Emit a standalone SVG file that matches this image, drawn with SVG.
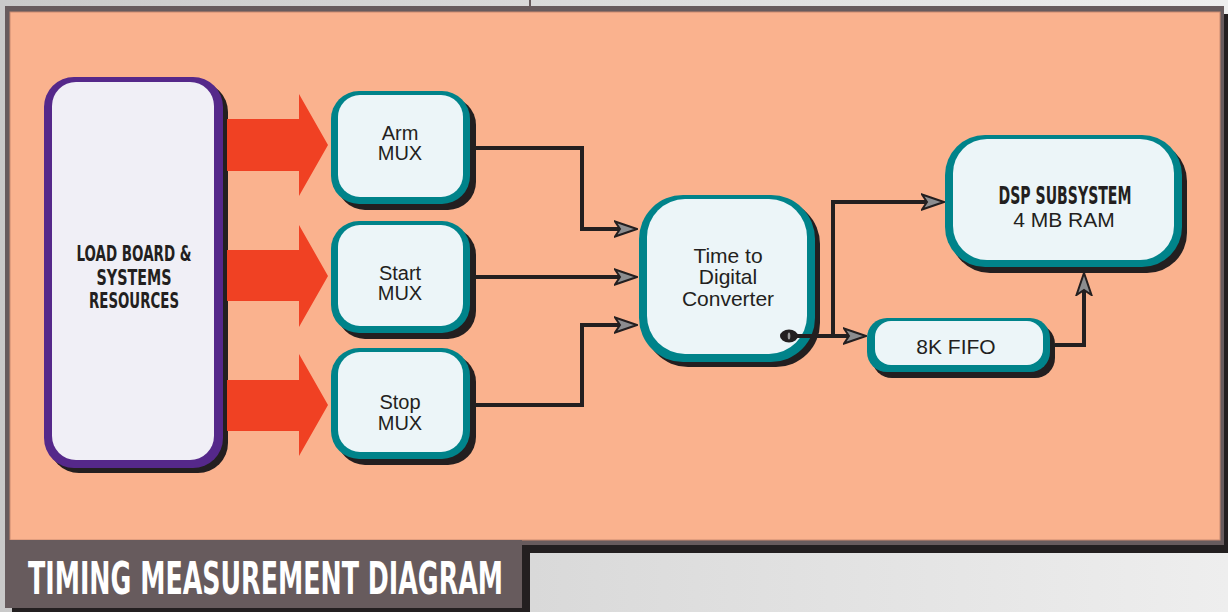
<svg xmlns="http://www.w3.org/2000/svg" width="1228" height="612" viewBox="0 0 1228 612">
<defs>
<linearGradient id="bg" x1="0" y1="0" x2="1" y2="0">
<stop offset="0" stop-color="#c9c9c9"/>
<stop offset="1" stop-color="#eeeeee"/>
</linearGradient>
<marker id="ah" viewBox="0 0 24 18" refX="6" refY="9" markerWidth="24" markerHeight="18" markerUnits="userSpaceOnUse" orient="auto">
<path d="M1,1.5 L23,9 L1,16.5 L6,9 Z" fill="#8c8d8f" stroke="#231f20" stroke-width="2" stroke-linejoin="miter"/>
</marker>
<style>
.sh{fill:#231f20}
.teal{fill:#00838a}
.inner{fill:#ecf5f8}
.lbl{font-family:"Liberation Sans",Arial,sans-serif;font-size:21px;fill:#231f20;text-anchor:middle}
.mux{font-size:20px}
.bold{font-family:"DejaVu Sans Condensed","DejaVu Sans",sans-serif;font-weight:bold;font-stretch:condensed;fill:#231f20;text-anchor:middle}
.wire{fill:none;stroke:#231f20;stroke-width:4;stroke-linejoin:miter}
.red{fill:#f04123}
</style>
</defs>
<rect x="0" y="0" width="1228" height="612" fill="url(#bg)"/>
<rect x="529" y="0" width="2" height="8" fill="#675b5d"/>
<rect x="12" y="14" width="1216" height="539" fill="#231f20"/>
<rect x="5" y="6" width="1219" height="539" fill="#675b5d"/>
<rect x="10" y="12" width="1210" height="528" fill="#fab28e" stroke="#c98a70" stroke-width="1"/>
<g id="title">
<rect x="12" y="548" width="518" height="64" fill="#231f20"/>
<rect x="5" y="540" width="517" height="68" fill="#675b5d"/>
<text x="28" y="594" font-family="'DejaVu Sans Condensed','DejaVu Sans',sans-serif" font-weight="bold" font-size="44" fill="#ffffff" textLength="475" lengthAdjust="spacingAndGlyphs">TIMING MEASUREMENT DIAGRAM</text>
</g>
<g id="loadboard">
<rect x="49" y="82" width="179" height="391" rx="30" class="sh"/>
<rect x="44" y="77" width="179" height="391" rx="30" fill="#55288a"/>
<rect x="52" y="82" width="162" height="378" rx="24" fill="#f0eff6"/>
<text x="134" y="261" class="bold" font-size="22" textLength="115" lengthAdjust="spacingAndGlyphs">LOAD BOARD &amp;</text>
<text x="134" y="285" class="bold" font-size="22" textLength="75" lengthAdjust="spacingAndGlyphs">SYSTEMS</text>
<text x="134" y="308" class="bold" font-size="22" textLength="90" lengthAdjust="spacingAndGlyphs">RESOURCES</text>
</g>
<g id="arrows-red">
<path class="red" d="M227,119 H299 V94 L328,145 L299,196 V171 H227 Z"/>
<path class="red" d="M227,250 H299 V225 L328,276 L299,327 V301 H227 Z"/>
<path class="red" d="M227,380 H299 V354 L328,405 L299,456 V431 H227 Z"/>
</g>
<g id="armmux">
<rect x="337" y="97" width="139" height="113" rx="28" class="sh"/>
<rect x="331" y="91" width="139" height="113" rx="28" class="teal"/>
<rect x="338" y="95" width="125" height="102" rx="22" class="inner"/>
<text x="400" y="140" class="lbl mux">Arm</text>
<text x="400" y="160" class="lbl mux">MUX</text>
</g>
<g id="startmux">
<rect x="337" y="227" width="139" height="112" rx="28" class="sh"/>
<rect x="331" y="221" width="139" height="112" rx="28" class="teal"/>
<rect x="338" y="225" width="125" height="101" rx="22" class="inner"/>
<text x="400" y="280" class="lbl mux">Start</text>
<text x="400" y="300" class="lbl mux">MUX</text>
</g>
<g id="stopmux">
<rect x="337" y="354" width="139" height="111" rx="28" class="sh"/>
<rect x="331" y="348" width="139" height="111" rx="28" class="teal"/>
<rect x="338" y="352" width="125" height="100" rx="22" class="inner"/>
<text x="400" y="409" class="lbl mux">Stop</text>
<text x="400" y="430" class="lbl mux">MUX</text>
</g>
<g id="tdc">
<rect x="644" y="200" width="176" height="167" rx="44" class="sh"/>
<rect x="639" y="195" width="176" height="167" rx="44" class="teal"/>
<rect x="647" y="199" width="160" height="155" rx="38" class="inner"/>
<text x="728" y="263" class="lbl">Time to</text>
<text x="728" y="284" class="lbl">Digital</text>
<text x="728" y="306" class="lbl">Converter</text>
</g>
<g id="fifo">
<rect x="872" y="324" width="183" height="54" rx="20" class="sh"/>
<rect x="867" y="318" width="183" height="54" rx="20" class="teal"/>
<rect x="875" y="321" width="168" height="44" rx="16" class="inner"/>
<text x="956" y="354" class="lbl">8K FIFO</text>
</g>
<g id="dsp">
<rect x="950" y="141" width="237" height="132" rx="40" class="sh"/>
<rect x="945" y="135" width="237" height="132" rx="40" class="teal"/>
<rect x="953" y="139" width="221" height="121" rx="34" class="inner"/>
<text x="1065" y="204" class="bold" font-size="24" textLength="133" lengthAdjust="spacingAndGlyphs">DSP SUBSYSTEM</text>
<text x="1064" y="227" class="lbl">4 MB RAM</text>
</g>
<g id="connectors">
<path class="wire" d="M476,148 H582 V229 H620" marker-end="url(#ah)"/>
<path class="wire" d="M476,277 H620" marker-end="url(#ah)"/>
<path class="wire" d="M476,405 H582 V325 H620" marker-end="url(#ah)"/>
<path class="wire" d="M833,336 V202 H927" stroke-width="5" marker-end="url(#ah)"/>
<path class="wire" d="M790,336 H849" stroke-width="3" marker-end="url(#ah)"/>
<path class="wire" d="M1055,345 H1084 V290" stroke-width="5" marker-end="url(#ah)"/>
<ellipse cx="789" cy="336" rx="9" ry="6.5" fill="#231f20"/>
<ellipse cx="789" cy="336" rx="1.3" ry="3.5" fill="#9a9a9a"/>
</g>
</svg>
